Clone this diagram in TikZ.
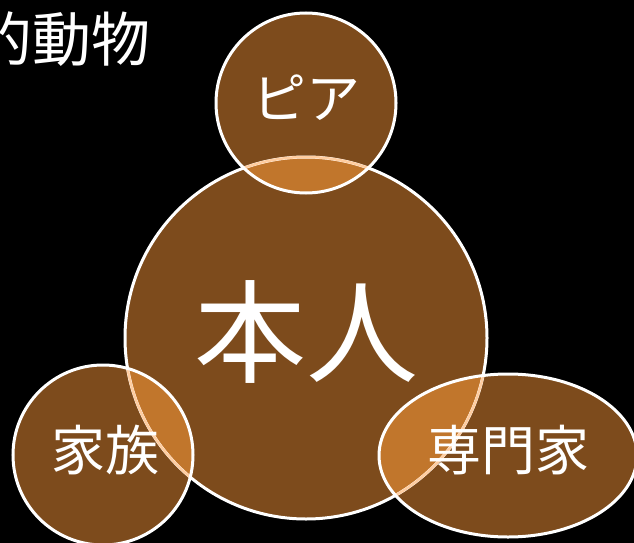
\documentclass[tikz,border=0pt]{standalone}
\usepackage{fontspec}
\setmainfont{Noto Sans CJK JP}
\definecolor{shapebrown}{RGB}{125,75,28}
\definecolor{overlaporange}{RGB}{193,118,44}
\definecolor{peach}{RGB}{255,205,160}
\tikzset{
  outline/.style={draw=white, line width=3pt},
  seenline/.style={draw=peach, line width=2.5pt},
  label/.style={text=white, inner sep=0pt, font=\fontsize{54}{60}\selectfont},
}
\begin{document}
\begin{tikzpicture}[x=1pt,y=-1pt]
\fill[black] (0,0) rectangle (634,543);
\useasboundingbox (0,0) rectangle (634,543);
% shapes
\def\mainc{(306,338) circle[radius=181]}
\def\peerc{(306,103) circle[radius=90]}
\def\famc{(103,455) circle[radius=90]}
\def\proe{(508,455.5) ellipse[x radius=129, y radius=81.5]}
\fill[shapebrown] \mainc;
\fill[shapebrown] \peerc;
\fill[shapebrown] \famc;
\fill[shapebrown] \proe;
\begin{scope}
  \clip \mainc;
  \fill[overlaporange] \peerc;
  \fill[overlaporange] \famc;
  \fill[overlaporange] \proe;
\end{scope}
\draw[outline] \mainc;
\begin{scope}\clip \peerc; \draw[seenline] \mainc; \end{scope}
\begin{scope}\clip \famc; \draw[seenline] \mainc; \end{scope}
\begin{scope}\clip \proe; \draw[seenline] \mainc; \end{scope}
\draw[outline] \peerc;
\draw[outline] \famc;
\draw[outline] \proe;
% texts
\node[label, font=\fontsize{112}{120}\selectfont] (self) at (306,332) {本人};
\node[label] (peer) at (306,98) {ピア};
\node[label] (family) at (105,450) {家族};
\node[label] (pro) at (508,450) {専門家};
\node[label, anchor=east, font=\fontsize{59}{64}\selectfont] (title) at (151,39) {的動物};
\end{tikzpicture}
\end{document}
